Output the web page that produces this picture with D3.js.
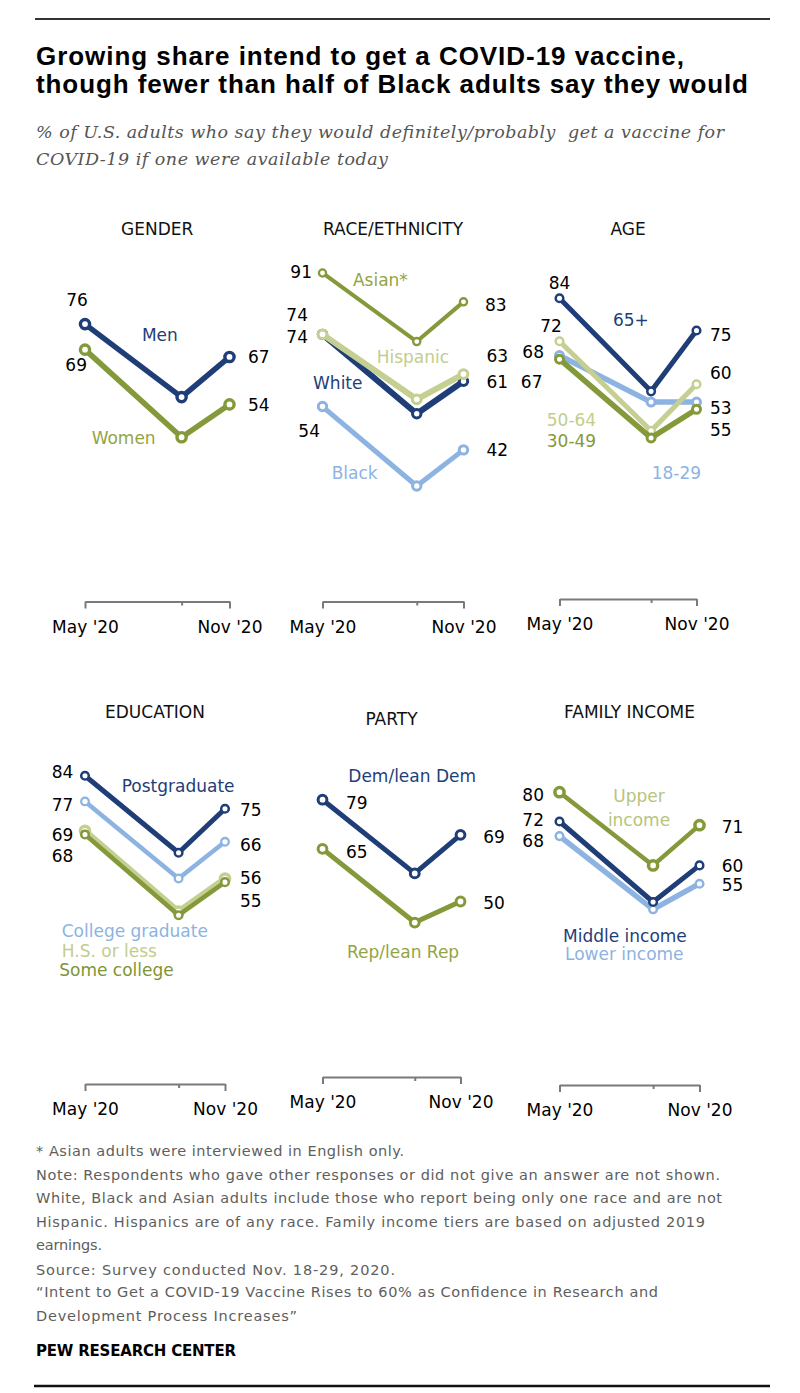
<!DOCTYPE html>
<html><head><meta charset="utf-8">
<script src="https://cdn.jsdelivr.net/npm/d3@7"></script>
<style>
body{margin:0;background:#fff;}
svg text{white-space:pre;}
</style></head><body>
<svg id="chart" width="800" height="1393"></svg>
<script>
// ---------- DATA ----------
const periods = [new Date(2020,4,1), new Date(2020,8,1), new Date(2020,10,1)]; // May '20, Sep '20, Nov '20
const tickLabels = ["May '20", "", "Nov '20"];

const genderCats = ["Men","Women"];
const genderVals = [[76,56,67],[69,45,54]];

const raceCats = ["Asian*","Hispanic","White","Black"];
const raceVals = [[91,72,83],[74,56,63],[74,52,61],[54,32,42]];

const ageCats = ["65+","50-64","30-49","18-29"];
const ageVals = [[84,58,75],[72,47,60],[67,45,53],[68,55,55]];

const eduCats = ["Postgraduate","College graduate","H.S. or less","Some college"];
const eduVals = [[84,63,75],[77,56,66],[69,47,56],[68,46,55]];

const partyCats = ["Dem/lean Dem","Rep/lean Rep"];
const partyVals = [[79,58,69],[65,44,50]];

const incomeCats = ["Upper income","Middle income","Lower income"];
const incomeVals = [[80,60,71],[72,50,60],[68,48,55]];

const panelTitles = ["GENDER","RACE/ETHNICITY","AGE","EDUCATION","PARTY","FAMILY INCOME"];

// ---------- STYLE / LAYOUT ----------
const NAVY="#1f3e78", OLIVE="#84993a", LGREEN="#c4cf91", LBLUE="#8db3e2";

const panelLayout = [
  {x0:85,   x1:229.5, axisY:601.5, ppp:3.65, titleY:235},
  {x0:322.5,x1:463.5, axisY:601.5, ppp:3.61, titleY:235},
  {x0:559.5,x1:696.5, axisY:599,   ppp:3.58, titleY:235},
  {x0:85,   x1:225,   axisY:1084,  ppp:3.67, titleY:718},
  {x0:322.5,x1:460.5, axisY:1077,  ppp:3.51, titleY:725},
  {x0:559.5,x1:699.5, axisY:1085,  ppp:3.66, titleY:718}
];

// draw order (bottom first) per panel, as indices into cats
const drawOrder = [[1,0],[3,2,1,0],[3,1,2,0],[2,3,1,0],[1,0],[2,1,0]];

const seriesStyle = {
  "Men":{c:NAVY,sw:5.5,r:4.6,csw:3.4}, "Women":{c:OLIVE,sw:5.5,r:4.6,csw:3.4},
  "Asian*":{c:OLIVE,sw:4,r:3.6,csw:2.3}, "Hispanic":{c:LGREEN,sw:6,r:4.4,csw:3},
  "White":{c:NAVY,sw:6,r:4.2,csw:3}, "Black":{c:LBLUE,sw:5,r:4.2,csw:3},
  "65+":{c:NAVY,sw:5,r:3.8,csw:2.5}, "50-64":{c:LGREEN,sw:5,r:3.8,csw:2.5},
  "30-49":{c:OLIVE,sw:5.5,r:4,csw:3}, "18-29":{c:LBLUE,sw:5.5,r:4,csw:3},
  "Postgraduate":{c:NAVY,sw:5,r:3.8,csw:2.5}, "College graduate":{c:LBLUE,sw:4.5,r:3.8,csw:2.3},
  "H.S. or less":{c:LGREEN,sw:6,r:4.6,csw:3.5}, "Some college":{c:OLIVE,sw:4.5,r:3.8,csw:2.5},
  "Dem/lean Dem":{c:NAVY,sw:5,r:4.4,csw:3}, "Rep/lean Rep":{c:OLIVE,sw:5,r:4.4,csw:3},
  "Upper income":{c:OLIVE,sw:4.5,r:4.6,csw:3.5}, "Middle income":{c:NAVY,sw:5,r:3.8,csw:2.5},
  "Lower income":{c:LBLUE,sw:5.5,r:3.8,csw:2.5}
};
const nameColor = {"Hispanic":"#c2cd8c","Women":"#94a444","Asian*":"#94a444","Some college":"#7f9436","Rep/lean Rep":"#94a444","Upper income":"#b8c47e","50-64":"#c2cd8c","30-49":"#84993a","H.S. or less":"#c2cd8c"};

// value-label offsets from the May / Nov point: [dx, dy, anchor]
const valueLabelPos = {
  "Men":{may:[-8,-18,"middle"],nov:[18.5,6,"start"]},
  "Women":{may:[2,21,"end"],nov:[18.5,6.6,"start"]},
  "Asian*":{may:[-10.5,5,"end"],nov:[21.5,9,"start"]},
  "Hispanic":{may:[-14.5,-13.4,"end"],nov:[23,-12,"start"]},
  "White":{may:[-14.5,8.6,"end"],nov:[23,6.7,"start"]},
  "Black":{may:[-2.5,30,"end"],nov:[23,6,"start"]},
  "65+":{may:[0,-9.3,"middle"],nov:[13.5,10.5,"start"]},
  "50-64":{may:[-8.5,-9.2,"middle"],nov:[13.5,-5.2,"start"]},
  "30-49":{may:[-17,29,"end"],nov:[13.5,4.7,"start"]},
  "18-29":{may:[-15.5,2.4,"end"],nov:[13.5,34,"start"]},
  "Postgraduate":{may:[-11.7,2.3,"end"],nov:[15,7.2,"start"]},
  "College graduate":{may:[-11.7,9.6,"end"],nov:[15,9.2,"start"]},
  "H.S. or less":{may:[-11.7,10.2,"end"],nov:[15,5.5,"start"]},
  "Some college":{may:[-11.7,27.6,"end"],nov:[15,24.8,"start"]},
  "Dem/lean Dem":{may:[23.5,9.3,"start"],nov:[22.8,8.2,"start"]},
  "Rep/lean Rep":{may:[23.5,9.1,"start"],nov:[22.8,7.5,"start"]},
  "Upper income":{may:[-15.5,8.8,"end"],nov:[22.2,7.9,"start"]},
  "Middle income":{may:[-15.5,4.5,"end"],nov:[22.2,6.6,"start"]},
  "Lower income":{may:[-15.5,10.9,"end"],nov:[22.2,7.3,"start"]}
};
// series-name label position in data space: [fraction of x range, value, anchor]
const nameLabelPos = {
  "Men":[.394,71.4,"start"], "Women":[.046,43.2,"start"],
  "Asian*":[.216,87.4,"start"], "Hispanic":[.384,66.1,"start"], "White":[-.067,58.9,"start"], "Black":[.065,33.9,"start"],
  "65+":[.39,76.3,"start"], "50-64":[-.093,48.3,"start"], "30-49":[-.093,42.5,"start"], "18-29":[.673,33.5,"start"],
  "Postgraduate":[.262,79.6,"start"], "College graduate":[-.166,40.1,"start"], "H.S. or less":[-.166,34.6,"start"], "Some college":[-.184,29.4,"start"],
  "Dem/lean Dem":[.187,84,"start"], "Rep/lean Rep":[.178,33.9,"start"],
  "Upper income":[.568,77.3,"middle"], "Middle income":[.025,39.1,"start"], "Lower income":[.039,34.2,"start"]
};
const nameLines = {"Upper income":["Upper","income"]};

const panels = [
  {cats:genderCats, vals:genderVals},
  {cats:raceCats, vals:raceVals},
  {cats:ageCats, vals:ageVals},
  {cats:eduCats, vals:eduVals},
  {cats:partyCats, vals:partyVals},
  {cats:incomeCats, vals:incomeVals}
];

// ---------- DRAW ----------
const svg = d3.select("#chart");
const FONT = "'DejaVu Sans', sans-serif";

function fitText(sel, w){ sel.attr("textLength", w).attr("lengthAdjust","spacing"); }

// top rule
svg.append("line").attr("x1",35).attr("x2",770).attr("y1",19).attr("y2",19)
  .attr("stroke","#333").attr("stroke-width",2);

// title
const titleLines = ["Growing share intend to get a COVID-19 vaccine,","though fewer than half of Black adults say they would"];
const titleW = [648, 712];
titleLines.forEach((t,i)=>{
  svg.append("text").attr("x",36).attr("y",[65,92.5][i]).text(t)
    .attr("font-family","'Liberation Sans', Arial, sans-serif").attr("font-weight",700)
    .attr("font-size",26).attr("fill","#000").call(fitText,titleW[i]);
});
const subLines = ["% of U.S. adults who say they would definitely/probably  get a vaccine for","COVID-19 if one were available today"];
const subW = [688, 352];
subLines.forEach((t,i)=>{
  svg.append("text").attr("x",36).attr("y",[137.5,164.5][i]).text(t)
    .attr("font-family","'DejaVu Serif', Georgia, serif").attr("font-style","italic")
    .attr("font-size",17.5).attr("fill","#555").call(fitText,subW[i]);
});

panels.forEach((p,pi)=>{
  const L = panelLayout[pi];
  const x = d3.scaleTime().domain([periods[0], periods[2]]).range([L.x0, L.x1]);
  const y = d3.scaleLinear().domain([0,100]).range([L.axisY, L.axisY - 100*L.ppp]);
  const g = svg.append("g");

  // panel title
  g.append("text").attr("x",(L.x0+L.x1)/2).attr("y",L.titleY).attr("text-anchor","middle")
    .attr("font-family",FONT).attr("font-size",17).attr("fill","#111").text(panelTitles[pi]);

  // axis
  const ax = g.append("g").attr("transform",`translate(0,${L.axisY})`)
    .call(d3.axisBottom(x).tickValues(periods).tickSize(7).tickSizeOuter(0).tickFormat((d,i)=>tickLabels[i]));
  ax.select(".domain").attr("stroke","#7a7a7a").attr("stroke-width",2);
  ax.selectAll(".tick line").attr("stroke","#7a7a7a").attr("stroke-width",2)
    .attr("y2",(d,i)=> i===1 ? 4 : 7);
  ax.selectAll(".tick text").attr("y",31).attr("dy",null)
    .attr("font-family",FONT).attr("font-size",17).attr("fill","#000");
  ax.attr("font-family",null).attr("font-size",null);

  const line = d3.line().x((d,i)=>x(periods[i])).y(d=>y(d));

  drawOrder[pi].forEach(si=>{
    const name = p.cats[si], vals = p.vals[si], st = seriesStyle[name];
    g.append("path").datum(vals).attr("d",line).attr("fill","none")
      .attr("stroke",st.c).attr("stroke-width",st.sw).attr("stroke-linejoin","round").attr("stroke-linecap","round");
    g.selectAll(null).data(vals).enter().append("circle")
      .attr("cx",(d,i)=>x(periods[i])).attr("cy",d=>y(d)).attr("r",st.r)
      .attr("fill","#fff").attr("stroke",st.c).attr("stroke-width",st.csw);
  });

  // value labels (May & Nov) and series names
  p.cats.forEach((name,si)=>{
    const vals = p.vals[si], pos = valueLabelPos[name];
    [["may",0],["nov",2]].forEach(([k,idx])=>{
      const o = pos[k];
      g.append("text").attr("x",x(periods[idx])+o[0]).attr("y",y(vals[idx])+o[1])
        .attr("text-anchor",o[2]).attr("font-family",FONT).attr("font-size",17).attr("fill","#000")
        .text(vals[idx]);
    });
    const np = nameLabelPos[name];
    const nx = L.x0 + np[0]*(L.x1-L.x0);
    const t = g.append("text").attr("x",nx).attr("y",y(np[1])).attr("text-anchor",np[2])
      .attr("font-family",FONT).attr("font-size",17).attr("fill",nameColor[name]||seriesStyle[name].c);
    const lines = nameLines[name] || [name];
    lines.forEach((ln,li)=>{
      t.append("tspan").attr("x",nx).attr("dy", li===0?0:24).text(ln);
    });
  });
});

// footer
const footLines = [
  "* Asian adults were interviewed in English only.",
  "Note: Respondents who gave other responses or did not give an answer are not shown.",
  "White, Black and Asian adults include those who report being only one race and are not",
  "Hispanic. Hispanics are of any race. Family income tiers are based on adjusted 2019",
  "earnings.",
  "Source: Survey conducted Nov. 18-29, 2020.",
  "\u201CIntent to Get a COVID-19 Vaccine Rises to 60% as Confidence in Research and",
  "Development Process Increases\u201D"
];
const footY = [1156,1180,1203,1227,1250,1275,1297,1321];
const footW = [368,684,686,669,66,359,622,261];
footLines.forEach((t,i)=>{
  svg.append("text").attr("x",36).attr("y",footY[i]).text(t)
    .attr("font-family",FONT).attr("font-size",14.5).attr("fill","#5e5e5e").call(fitText,footW[i]);
});
svg.append("text").attr("x",36).attr("y",1356).text("PEW RESEARCH CENTER")
  .attr("font-family",FONT).attr("font-weight",700).attr("font-size",15).attr("fill","#000").call(fitText,200);

svg.append("line").attr("x1",34).attr("x2",770).attr("y1",1386).attr("y2",1386)
  .attr("stroke","#111").attr("stroke-width",2.5);
</script>
</body></html>
